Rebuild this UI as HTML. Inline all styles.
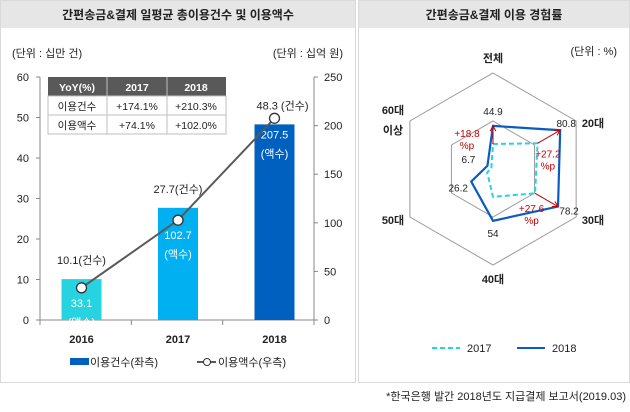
<!DOCTYPE html>
<html><head><meta charset="utf-8"><style>
body{margin:0;width:630px;height:407px;background:#fff;font-family:"Liberation Sans","Noto Sans CJK KR",sans-serif;overflow:hidden}
svg text{font-family:"Liberation Sans","Noto Sans CJK KR",sans-serif}
</style></head><body>
<svg width="630" height="407">
<g>
<rect x="0.5" y="0.5" width="355" height="382" fill="#fff" stroke="#d9d9d9"/>
<rect x="1" y="1" width="354" height="27" fill="#e6e6e6"/>
<text x="178" y="19" text-anchor="middle" font-size="12" font-weight="bold" fill="#222">간편송금&amp;결제 일평균 총이용건수 및 이용액수</text>
<text x="12" y="57" font-size="11" fill="#222">(단위 : 십만 건)</text>
<text x="343" y="57" text-anchor="end" font-size="11" fill="#222">(단위 : 십억 원)</text>
<g id="axes"></g><g id="bars"></g><g id="line"></g>
<g font-size="10.5" text-anchor="middle">
<rect x="48" y="77" width="178" height="19" fill="#595959"/>
<text x="77" y="91" fill="#fff" font-weight="bold">YoY(%)</text>
<text x="137" y="91" fill="#fff" font-weight="bold">2017</text>
<text x="196" y="91" fill="#fff" font-weight="bold">2018</text>
<rect x="48" y="96" width="178" height="38" fill="#fff" stroke="#bfbfbf"/>
<line x1="48" y1="115" x2="226" y2="115" stroke="#bfbfbf"/>
<line x1="107" y1="77" x2="107" y2="134" stroke="#bfbfbf"/>
<line x1="167" y1="77" x2="167" y2="134" stroke="#bfbfbf"/>
<text x="77" y="110" fill="#222">이용건수</text><text x="137" y="110" fill="#222">+174.1%</text><text x="196" y="110" fill="#222">+210.3%</text>
<text x="77" y="129" fill="#222">이용액수</text><text x="137" y="129" fill="#222">+74.1%</text><text x="196" y="129" fill="#222">+102.0%</text>
</g>
<g font-size="11" fill="#222">
<rect x="70" y="358" width="19" height="7" fill="#0060c0"/>
<text x="90" y="366">이용건수(좌측)</text>
<line x1="197" y1="362" x2="216" y2="362" stroke="#595959" stroke-width="2"/>
<circle cx="207" cy="362" r="3.5" fill="#fff" stroke="#333"/>
<text x="218" y="366">이용액수(우측)</text>
</g>
</g>
<g>
<rect x="358.5" y="0.5" width="271" height="382" fill="#fff" stroke="#d9d9d9"/>
<rect x="359" y="1" width="270" height="27" fill="#e6e6e6"/>
<text x="494" y="19" text-anchor="middle" font-size="12" font-weight="bold" fill="#222">간편송금&amp;결제 이용 경험률</text>
<text x="617" y="55" text-anchor="end" font-size="11" fill="#222">(단위 : %)</text>
<g id="radar"></g>
<g font-size="11" fill="#222">
<line x1="432" y1="348" x2="460" y2="348" stroke="#26d3e0" stroke-width="2" stroke-dasharray="5,3"/>
<text x="467" y="352">2017</text>
<line x1="517" y1="348" x2="545" y2="348" stroke="#0a5cc0" stroke-width="2"/>
<text x="552" y="352">2018</text>
</g>
</g>
<text x="626" y="400" text-anchor="end" font-size="11" fill="#222">*한국은행 발간 2018년도 지급결제 보고서(2019.03)</text>
</svg>
<script>
const years=["2016","2017","2018"];
const counts=[10.1,27.7,48.3];
const amounts=[33.1,102.7,207.5];
const leftTicks=[0,10,20,30,40,50,60];
const rightTicks=[0,50,100,150,200,250];
const radarCats=["전체","20대","30대","40대","50대","60대"];
const r2017=[26.1,53.6,50.6,29,7,2];
const r2018=[44.9,80.8,78.2,54,26.2,6.7];
const radarDelta=["+18.8","+27.2","+27.6"];
const NS="http://www.w3.org/2000/svg";
function el(t,a,p){const e=document.createElementNS(NS,t);for(const k in a)e.setAttribute(k,a[k]);p.appendChild(e);return e;}
const x0=40,x1=314,yb=320,yt=77;
const yL=v=>yb-(v/60)*(yb-yt), yR=v=>yb-(v/250)*(yb-yt);
const xC=i=>178+(i-1)*96.5;
const ax=document.getElementById('axes');
el('line',{x1:x0,y1:yt,x2:x0,y2:yb,stroke:'#888'},ax);
el('line',{x1:x1,y1:yt,x2:x1,y2:yb,stroke:'#888'},ax);
el('line',{x1:x0,y1:yb,x2:x1,y2:yb,stroke:'#888'},ax);
leftTicks.forEach(v=>{el('line',{x1:x0-4,y1:yL(v),x2:x0,y2:yL(v),stroke:'#888'},ax);
const t=el('text',{x:x0-11,y:yL(v)+4,'text-anchor':'end','font-size':11,fill:'#222'},ax);t.textContent=v;

});
rightTicks.forEach(v=>{el('line',{x1:x1,y1:yR(v),x2:x1+4,y2:yR(v),stroke:'#888'},ax);
const t=el('text',{x:x1+10,y:yR(v)+4,'font-size':11,fill:'#222'},ax);t.textContent=v;

});
for(let i=0;i<=3;i++){const x=x0+(x1-x0)*i/3;el('line',{x1:x,y1:yb,x2:x,y2:yb+5,stroke:'#888'},ax);}
const colors=["#26d3e0","#00b0f0","#0060c0"];
const bg=document.getElementById('bars'),lg=document.getElementById('line');
years.forEach((y,i)=>{
const r=el('rect',{x:xC(i)-20,y:yL(counts[i]),width:40,height:yb-yL(counts[i]),fill:colors[i]},bg);


const t=el('text',{x:xC(i),y:yb+23,'text-anchor':'middle','font-size':11,'font-weight':'bold',fill:'#222'},bg);t.textContent=y;


const c=el('text',{x:xC(i)+(i==2?8:0),y:yL(counts[i])-(i==2?15:15),'text-anchor':'middle','font-size':11,fill:'#222'},bg);c.textContent=counts[i]+(i==2?' (건수)':'(건수)');


const ty=i==2?yR(amounts[i])+20:yR(amounts[i])+19;
const a=el('text',{x:xC(i),y:ty,'text-anchor':'middle','font-size':11,fill:'#fff'},bg);a.textContent=amounts[i];


const b=el('text',{x:xC(i),y:ty+19,'text-anchor':'middle','font-size':11,fill:'#fff'},bg);b.textContent='(액수)';


});
const pl=el('polyline',{points:amounts.map((v,i)=>xC(i)+','+yR(v)).join(' '),fill:'none',stroke:'#595959','stroke-width':2},lg);


amounts.forEach((v,i)=>{const c=el('circle',{cx:xC(i),cy:yR(v),r:5,fill:'#fff',stroke:'#333','stroke-width':1.3},lg);

});
// radar
const rg=document.getElementById('radar');
const cx=493,cy=169,R=96;
const P=(k,v)=>{const a=-Math.PI/2+k*Math.PI/3;return [cx+Math.cos(a)*R*v/100,cy+Math.sin(a)*R*v/100];};
[100,50].forEach(s=>{el('polygon',{points:radarCats.map((c,k)=>P(k,s).join(',')).join(' '),fill:'none',stroke:'#999'},rg);});
const lp=[[493,62],[593,127],[593,224],[493,283],[393,224],[393,120]];
radarCats.forEach((c,k)=>{
if(k==5){const t1=el('text',{x:393,y:114,'text-anchor':'middle','font-size':11,'font-weight':'bold',fill:'#222'},rg);t1.textContent='60대';


const t2=el('text',{x:393,y:134,'text-anchor':'middle','font-size':11,'font-weight':'bold',fill:'#222'},rg);t2.textContent='이상';

return;}
const t=el('text',{x:lp[k][0],y:lp[k][1],'text-anchor':'middle','font-size':11,'font-weight':'bold',fill:'#222'},rg);t.textContent=c;

});
const p17=el('polygon',{points:r2017.map((v,k)=>P(k,v).join(',')).join(' '),fill:'none',stroke:'#26d3e0','stroke-width':2,'stroke-dasharray':'5,3'},rg);


const p18=el('polygon',{points:r2018.map((v,k)=>P(k,v).join(',')).join(' '),fill:'none',stroke:'#0a5cc0','stroke-width':2.2},rg);


const off=[[0,-11],[6,-3],[11,8],[0,16],[-13,10],[-19,-3]];
r2018.forEach((v,k)=>{const p=P(k,v);const t=el('text',{x:p[0]+off[k][0],y:p[1]+off[k][1],'text-anchor':'middle','font-size':10,fill:'#222'},rg);t.textContent=v;

});
const dl=[[-26,2],[-1,21],[-15,12]];
[0,1,2].forEach((k,j)=>{const a=P(k,r2017[k]),b=P(k,r2018[k]);
el('line',{x1:a[0],y1:a[1],x2:b[0],y2:b[1],stroke:'#c00000','stroke-width':1},rg);
const ang=Math.atan2(b[1]-a[1],b[0]-a[0]);
el('polyline',{points:(b[0]-6*Math.cos(ang-0.5))+','+(b[1]-6*Math.sin(ang-0.5))+' '+b[0]+','+b[1]+' '+(b[0]-6*Math.cos(ang+0.5))+','+(b[1]-6*Math.sin(ang+0.5)),fill:'none',stroke:'#c00000'},rg);
const m=[(a[0]+b[0])/2+dl[j][0],(a[1]+b[1])/2+dl[j][1]];
const t=el('text',{x:m[0],y:m[1],'text-anchor':'middle','font-size':10,fill:'#c00000'},rg);t.textContent=radarDelta[j];


const t2=el('text',{x:m[0],y:m[1]+12,'text-anchor':'middle','font-size':10,fill:'#c00000'},rg);t2.textContent='%p';

});
</script>
</body></html>
